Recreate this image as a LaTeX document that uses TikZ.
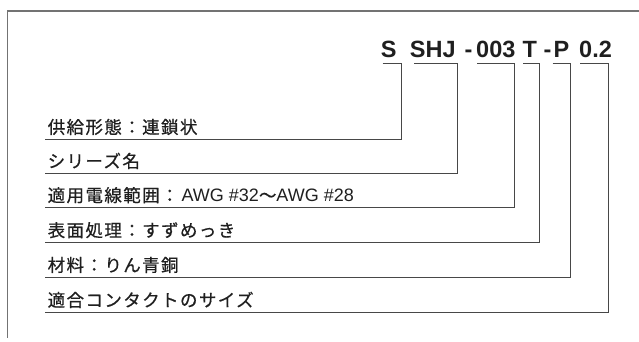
\documentclass[tikz,border=0pt]{standalone}
\usepackage{fontspec}
\setmainfont{Liberation Sans}
\newfontfamily\jp{Noto Sans CJK JP}[LetterSpace=8,FakeBold=0.6]
\usetikzlibrary{calc}

\begin{document}
\begin{tikzpicture}
          [x=1pt,y=-1pt,
          code/.style={anchor=base west,inner sep=0pt,font=\fontsize{23.5}{26}\selectfont\bfseries,text=black!88},
          part/.style={anchor=south west,inner xsep=2.5pt,inner ysep=0pt,text depth=5.5pt,
                       font=\fontsize{17.5}{19}\selectfont,text=black!88},
          leader/.style={draw=black!72,line width=0.9pt},
          frame/.style={draw=black!55,line width=1.1pt}]
          \useasboundingbox (0,0) rectangle (639,341);
          % open frame round the picture
          \draw[frame] (639,11) -- (7.7,11) -- (7.7,338);
          % the part number
          \node[code] (cS)    at (380.7,57) {S};
          \node[code] (cSHJ)  at (409.7,57) {SHJ};
          \node[code] (dash1) at (464.5,57) {-};
          \node[code] (cNum)  at (476,57)   {003};
          \node[code] (cT)    at (522.5,57) {T};
          \node[code] (dash2) at (543.5,57) {-};
          \node[code] (cP)    at (553.5,57) {P};
          \node[code] (cSize) at (579,57)   {0.2};
          % what each part means
          \node[part] (lS)    at (45,139.3) {\jp 供給形態：連鎖状};
          \node[part] (lSHJ)  at (45,173.3) {\jp シリーズ名};
          \node[part] (lNum)  at (45,207.5) {{\jp 適用電線範囲：}\hspace{3pt}{\fontsize{18}{19}\selectfont AWG \#32}{\jp 〜}{\fontsize{18}{19}\selectfont AWG \#28}};
          \node[part] (lT)    at (45,242.5) {\jp 表面処理：すずめっき};
          \node[part] (lP)    at (45,277.3) {\jp 材料：りん青銅};
          \node[part] (lSize) at (45,312.3) {\jp 適合コンタクトのサイズ};
          % brackets under the part number
          \coordinate (bS1)    at (382.7,63.3); \coordinate (bS2)    at (401,63.3);
          \coordinate (bSHJ1)  at (414,63.3);   \coordinate (bSHJ2)  at (457.7,63.3);
          \coordinate (bNum1)  at (477.3,63.3); \coordinate (bNum2)  at (514,63.3);
          \coordinate (bT1)    at (523.3,63.3); \coordinate (bT2)    at (539.3,63.3);
          \coordinate (bP1)    at (552.7,63.3); \coordinate (bP2)    at (570,63.3);
          \coordinate (bSize1) at (580,63.3);   \coordinate (bSize2) at (608.3,63.3);
          \draw[leader] (bS1) -- (bS2) -- (bS2 |- lS.south west) -- (lS.south west);
          \draw[leader] (bSHJ1) -- (bSHJ2) -- (bSHJ2 |- lSHJ.south west) -- (lSHJ.south west);
          \draw[leader] (bNum1) -- (bNum2) -- (bNum2 |- lNum.south west) -- (lNum.south west);
          \draw[leader] (bT1) -- (bT2) -- (bT2 |- lT.south west) -- (lT.south west);
          \draw[leader] (bP1) -- (bP2) -- (bP2 |- lP.south west) -- (lP.south west);
          \draw[leader] (bSize1) -- (bSize2) -- (bSize2 |- lSize.south west) -- (lSize.south west);
        \end{tikzpicture}
\end{document}
